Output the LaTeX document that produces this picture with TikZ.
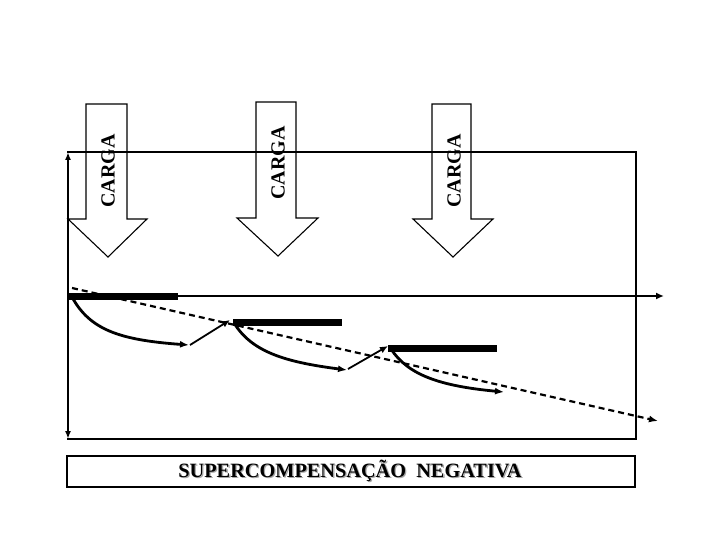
\documentclass[tikz,border=0pt]{standalone}
\usepackage{fontspec}
\setmainfont{Liberation Serif}
\usetikzlibrary{arrows.meta}
\begin{document}
\begin{tikzpicture}[x=1pt,y=-1pt,
  frameline/.style={line width=1.2pt},
  axisline/.style={line width=2pt},
  bar/.style={line width=7pt},
  curveline/.style={line width=2.8pt,-{Latex[length=9pt,width=7pt]}},
  riseline/.style={line width=1.8pt,-{Latex[length=8pt,width=7pt]}},
  dashline/.style={line width=2.2pt,dash pattern=on 6pt off 4pt,-{Latex[length=9pt,width=7pt]}},
  blockarrow/.style={line width=1.1pt},
  cargatext/.style={rotate=90,font=\bfseries\fontsize{20}{24}\selectfont,inner sep=0pt},
  titletext/.style={font=\bfseries\fontsize{20.3}{24}\selectfont,inner sep=0pt}]
\useasboundingbox (0,0) rectangle (720,540);
% frame
\draw[frameline] (67,152) -- (636,152) -- (636,439) -- (67,439);
% vertical double axis
\coordinate (vtop) at (68,152);
\coordinate (vbot) at (68,439);
\draw[axisline,{Latex[length=8pt,width=6pt]}-{Latex[length=8pt,width=6pt]}] (vbot) -- (vtop);
% horizontal axis
\coordinate (hstart) at (68,296);
\coordinate (hend) at (664,296);
\draw[axisline,-{Latex[length=8pt,width=7pt]}] (hstart) -- (hend);
% block arrows
\draw[blockarrow] (86,104) -- (127,104) -- (127,219) -- (147,219) -- (108,257) -- (68,219) -- (86,219) -- cycle;
\draw[blockarrow] (256,102) -- (296,102) -- (296,218) -- (318,218) -- (278,256) -- (237,218) -- (256,218) -- cycle;
\draw[blockarrow] (432,104) -- (471,104) -- (471,219) -- (493,219) -- (453,257) -- (413,219) -- (432,219) -- cycle;
\node[cargatext] (c1) at (108,171) {CARGA};
\node[cargatext] (c2) at (278,163) {CARGA};
\node[cargatext] (c3) at (454,171) {CARGA};
% bars
\coordinate (b1s) at (68,296); \coordinate (b1e) at (178,296);
\coordinate (b2s) at (233,322); \coordinate (b2e) at (342,322);
\coordinate (b3s) at (388,348); \coordinate (b3e) at (497,348);
\draw[bar] (b1s) -- (b1e);
\draw[bar] (b2s) -- (b2e);
\draw[bar] (b3s) -- (b3e);
% curves
\coordinate (k1s) at (72,297); \coordinate (k1e) at (189,345);
\coordinate (k2s) at (234,323); \coordinate (k2e) at (347,370);
\coordinate (k3s) at (391,349); \coordinate (k3e) at (504,392);
\draw[curveline] (k1s) .. controls (90,330) and (120,340) .. (k1e);
\draw[riseline] (190,345) -- (230,320);
\draw[curveline] (k2s) .. controls (252,352) and (285,362) .. (k2e);
\draw[riseline] (348,369) -- (388,346);
\draw[curveline] (k3s) .. controls (408,375) and (440,386) .. (k3e);
% dashed trend
\coordinate (ds) at (72,288); \coordinate (de) at (658,421);
\draw[dashline] (ds) -- (de);
% title box
\draw[frameline] (67,456) rectangle (635,487);
\node[titletext,text=gray!70] at (351.3,472.3) {SUPERCOMPENSAÇÃO\ \ NEGATIVA};
\node[titletext] (title) at (350,471) {SUPERCOMPENSAÇÃO\ \ NEGATIVA};
\end{tikzpicture}
\end{document}
